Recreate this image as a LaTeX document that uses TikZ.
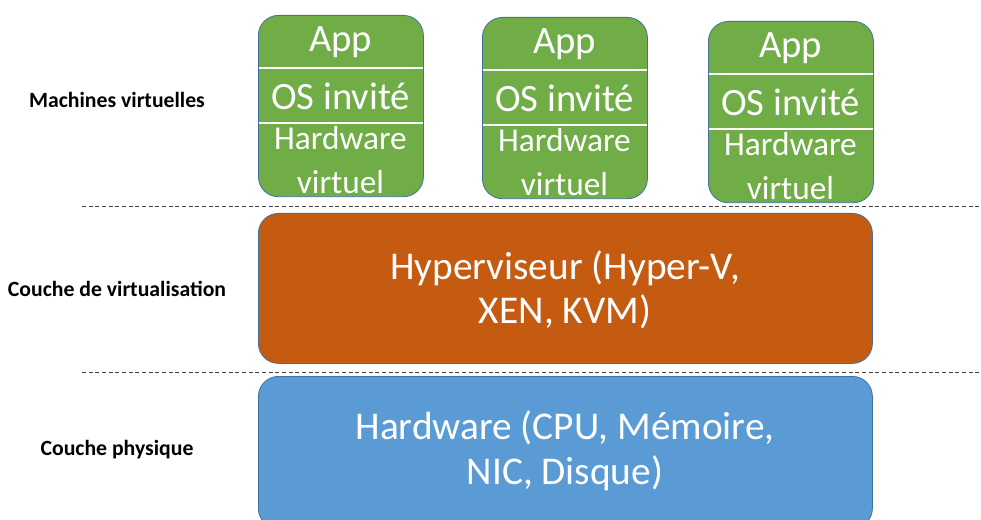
\documentclass[tikz,border=0pt]{standalone}
\usepackage{fontspec}
\setmainfont{Carlito}
\definecolor{vmgreen}{HTML}{70AD47}
\definecolor{hyporange}{HTML}{C55A11}
\definecolor{hwblue}{HTML}{5B9BD5}
\definecolor{edgeblue}{HTML}{41719C}
\tikzset{
  layerbox/.style={draw=edgeblue, line width=0.6pt, rounded corners=15pt, anchor=north west, inner sep=0pt},
  sepline/.style={white, line width=2.2pt},
  toptext/.style={text=white, font=\fontsize{29}{33}\selectfont, align=center},
  boxtext/.style={text=white, font=\fontsize{25}{33}\selectfont, align=center},
  bigtext/.style={text=white, font=\fontsize{29.5}{33.5}\selectfont, align=center},
  layerlabel/.style={font=\bfseries\fontsize{16.3}{19}\selectfont},
  layersep/.style={draw=black!75, line width=0.75pt, dash pattern=on 3pt off 2pt}
}
\begin{document}
\begin{tikzpicture}[x=0.75pt, y=-0.75pt]
  \useasboundingbox (0,0) rectangle (981,520);

  \foreach \x/\y/\n in {258/15/a, 482/17/b, 708/21/c} {
    \node[layerbox, fill=vmgreen, minimum width=123.75pt, minimum height=136pt] (vm\n) at (\x,\y) {};
    \draw[sepline] (\x+0.5,\y+53) -- (\x+164.5,\y+53);
    \draw[sepline] (\x+0.5,\y+108) -- (\x+164.5,\y+108);
    \node at (\x+82.5,\y+27) [toptext] (app\n) {App};
    \node at (\x+82.5,\y+81) [toptext] (os\n) {OS invité};
    \node at (\x+82.5,\y+145) [boxtext] (hw\n) {Hardware\\virtuel};
  }

  \node[layerbox, fill=hyporange, minimum width=460.5pt, minimum height=112.5pt] (hyp) at (258,213) {};
  \node at (565,290) [bigtext] (hyptext) {Hyperviseur (Hyper-V,\\XEN, KVM)};

  \node[layerbox, fill=hwblue, minimum width=460.5pt, minimum height=114pt] (hw) at (258,376) {};
  \node at (565,451) [bigtext] (hwtext) {Hardware (CPU, Mémoire,\\NIC, Disque)};

  \draw[layersep] (82,207) -- (981,207);
  \draw[layersep] (82,372) -- (981,372);

  \node at (117,100) [layerlabel] (lblvm) {Machines virtuelles};
  \node at (117,289) [layerlabel] (lblhyp) {Couche de virtualisation};
  \node at (117,450) [layerlabel] (lblhw) {Couche physique};
\end{tikzpicture}
\end{document}
